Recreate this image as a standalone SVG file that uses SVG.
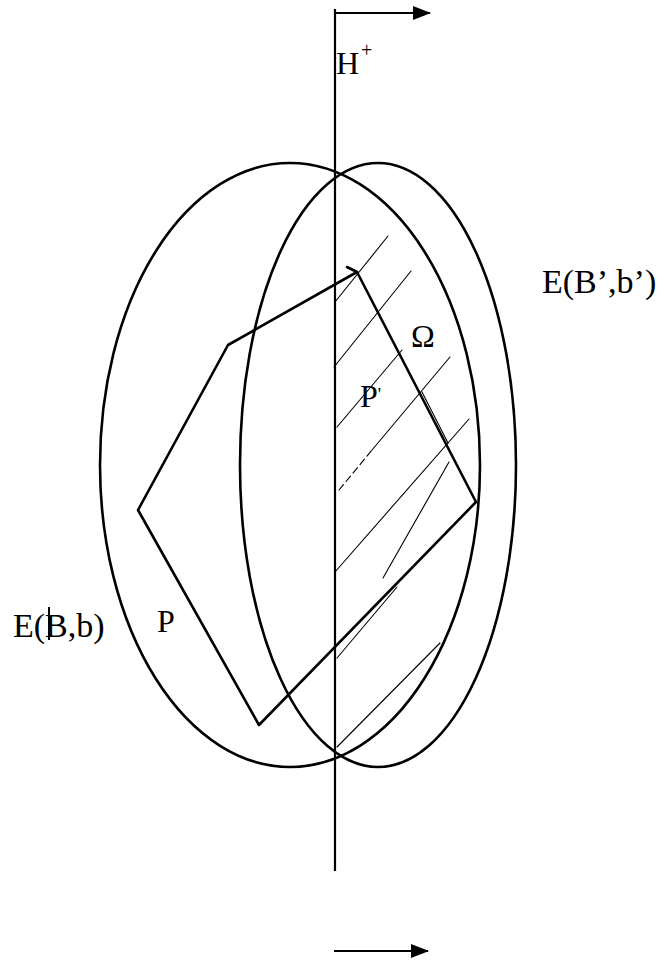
<svg xmlns="http://www.w3.org/2000/svg" width="664" height="961" viewBox="0 0 664 961">
<style>
.bold{fill:none;stroke:#000;stroke-width:2.6;stroke-linecap:round;stroke-linejoin:round}
.axis{fill:none;stroke:#000;stroke-width:2.2}
.hatch{fill:none;stroke:#000;stroke-width:1.1;stroke-linecap:round}
.lbl{font-family:"Liberation Serif","Times New Roman",serif;fill:#000}
</style>
<defs>
<marker id="ah" markerWidth="18" markerHeight="14" refX="17" refY="7" orient="auto" markerUnits="userSpaceOnUse">
<path d="M0,0 L18,7 L0,14 Z" fill="#000"/>
</marker>
</defs>
<rect width="664" height="961" fill="#fff"/>
<g id="ellipse-E-B-b">
<ellipse class="bold" cx="290" cy="465" rx="190" ry="302"/>
</g>
<g id="ellipse-E-Bp-bp">
<ellipse class="bold" cx="378" cy="465" rx="138" ry="302"/>
</g>
<g id="hatching">
<line class="hatch" x1="335" y1="302" x2="388" y2="236"/>
<line class="hatch" x1="334" y1="367" x2="411" y2="271"/>
<line class="hatch" x1="337" y1="427" x2="402" y2="350"/>
<line class="hatch" x1="372" y1="450" x2="450" y2="357"/>
<line class="hatch" x1="339" y1="490" x2="372" y2="450" stroke-dasharray="7 4"/>
<line class="hatch" x1="335" y1="572" x2="469" y2="419"/>
<line class="hatch" x1="383" y1="578" x2="449" y2="462"/>
<line class="hatch" x1="337" y1="658" x2="397" y2="587"/>
<line class="hatch" x1="337" y1="747" x2="440" y2="643"/>
<line class="hatch" x1="422" y1="392" x2="448" y2="443"/>
</g>
<g id="polygon-P">
<path class="bold" d="M357,272 L476,502 L259,725 L138,510 L228,345 Z"/>
<path class="bold" d="M347,267 L357,272" stroke-width="2"/>
</g>
<g id="connectors">
<path class="axis" d="M335,9 V871"/>
<path class="axis" d="M335,13 H430" stroke-width="2.6" marker-end="url(#ah)"/>
<path class="axis" d="M334,951 H428" stroke-width="2.6" marker-end="url(#ah)"/>
</g>
<g id="label-H">
<text class="lbl" x="336" y="74" font-size="32">H</text>
<text class="lbl" x="361" y="57" font-size="20">+</text>
</g>
<g id="label-E-Bp-bp">
<text class="lbl" x="542" y="293" font-size="34">E(B’,b’)</text>
</g>
<g id="label-Omega">
<text class="lbl" x="411" y="347" font-size="32">Ω</text>
</g>
<g id="label-Pp">
<text class="lbl" x="360" y="407" font-size="32">P<tspan font-size="18" dy="-6">'</tspan></text>
</g>
<g id="label-E-B-b">
<text class="lbl" x="13" y="637" font-size="34">E(B,b)</text>
<line x1="49" y1="607" x2="49" y2="640" stroke="#000" stroke-width="2"/>
</g>
<g id="label-P">
<text class="lbl" x="157" y="632" font-size="32">P</text>
</g>
</svg>
